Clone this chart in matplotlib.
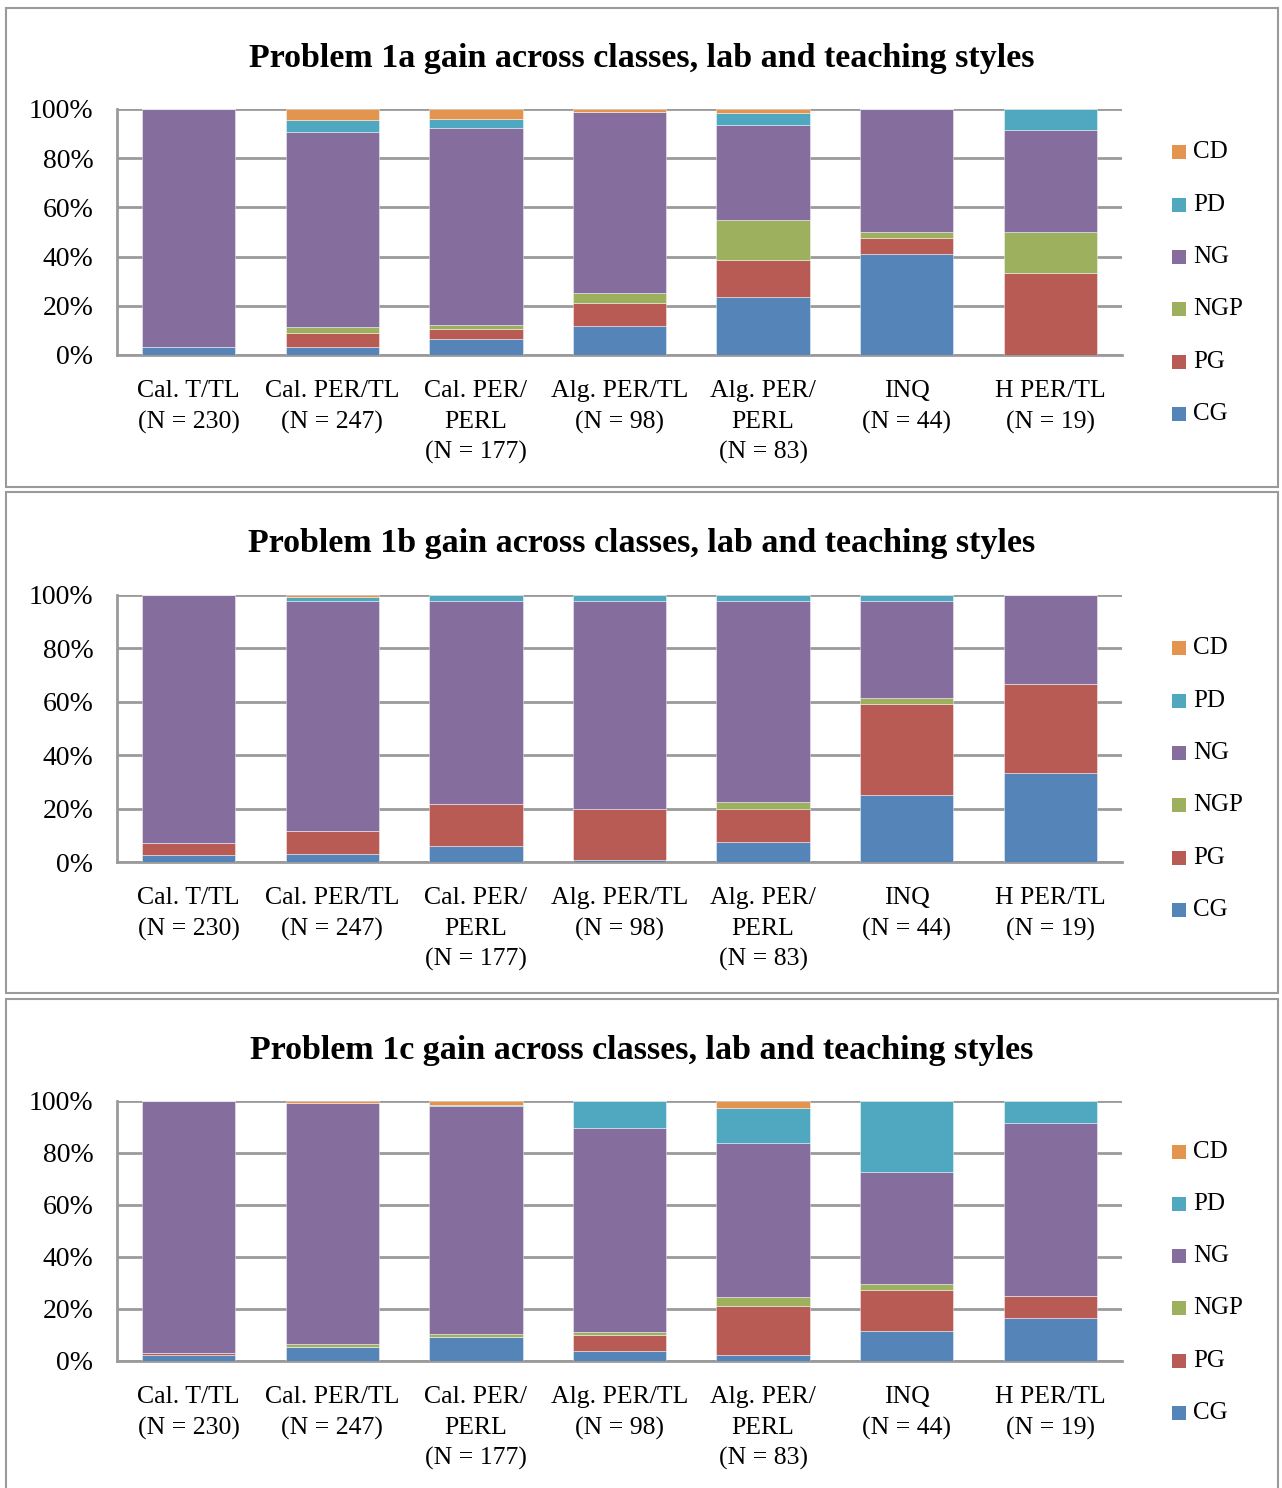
import matplotlib
matplotlib.use("Agg")
import matplotlib.pyplot as plt
from matplotlib.patches import Rectangle
import numpy as np

categories = ["Cal. T/TL\n(N = 230)", "Cal. PER/TL\n(N = 247)", "Cal. PER/\nPERL\n(N = 177)",
              "Alg. PER/TL\n(N = 98)", "Alg. PER/\nPERL\n(N = 83)", "INQ\n(N = 44)", "H PER/TL\n(N = 19)"]
series_names = ["CG", "PG", "NGP", "NG", "PD", "CD"]

titles = ["Problem 1a gain across classes, lab and teaching styles",
          "Problem 1b gain across classes, lab and teaching styles",
          "Problem 1c gain across classes, lab and teaching styles"]

# Problem 1a (percent)
p1a_CG = [3.1, 3.4, 6.5, 11.8, 23.5, 40.9, 0.0]
p1a_PG = [0.0, 5.7, 3.9, 9.2, 15.1, 6.8, 33.2]
p1a_NGP = [0.0, 2.4, 1.7, 4.1, 16.3, 2.3, 16.7]
p1a_NG = [96.9, 79.3, 80.3, 73.6, 38.6, 50.0, 41.6]
p1a_PD = [0.0, 4.7, 3.4, 0.0, 5.0, 0.0, 8.5]
p1a_CD = [0.0, 4.5, 4.2, 1.3, 1.5, 0.0, 0.0]

# Problem 1b (percent)
p1b_CG = [2.8, 3.1, 6.0, 0.8, 7.4, 25.0, 33.3]
p1b_PG = [4.5, 8.4, 15.9, 19.2, 12.4, 34.1, 33.3]
p1b_NGP = [0.0, 0.0, 0.0, 0.0, 2.6, 2.3, 0.0]
p1b_NG = [92.7, 86.4, 75.7, 77.9, 75.2, 36.3, 33.4]
p1b_PD = [0.0, 1.5, 2.4, 2.1, 2.4, 2.3, 0.0]
p1b_CD = [0.0, 0.6, 0.0, 0.0, 0.0, 0.0, 0.0]

# Problem 1c (percent)
p1c_CG = [2.3, 5.5, 9.3, 3.8, 2.3, 11.4, 16.4]
p1c_PG = [0.7, 0.0, 0.0, 6.2, 18.7, 15.9, 8.6]
p1c_NGP = [0.0, 0.9, 1.2, 1.2, 3.8, 2.3, 0.0]
p1c_NG = [97.0, 92.7, 87.4, 78.6, 58.9, 43.1, 66.5]
p1c_PD = [0.0, 0.0, 0.7, 10.2, 13.8, 27.3, 8.5]
p1c_CD = [0.0, 0.9, 1.4, 0.0, 2.5, 0.0, 0.0]

yticks = [0, 20, 40, 60, 80, 100]
ytick_labels = ["0%", "20%", "40%", "60%", "80%", "100%"]

panels = [
    [p1a_CG, p1a_PG, p1a_NGP, p1a_NG, p1a_PD, p1a_CD],
    [p1b_CG, p1b_PG, p1b_NGP, p1b_NG, p1b_PD, p1b_CD],
    [p1c_CG, p1c_PG, p1c_NGP, p1c_NG, p1c_PD, p1c_CD],
]

colors = {"CG": "#5585B8", "PG": "#B95B55", "NGP": "#9CB05E",
          "NG": "#856D9E", "PD": "#50A8C0", "CD": "#E39550"}

W, H = 1282, 1488
fig = plt.figure(figsize=(W / 100, H / 100), dpi=100)
plt.rcParams['font.family'] = ['Liberation Serif', 'DejaVu Serif']

def fx(x):
    return x / W

def fy(y):
    return 1 - y / H

# panel layout in pixels: (box_top, box_bottom, title_y, plot_top, plot_bottom, legend_ys)
layout = [
    (8, 487, 58, 109, 355, [152, 205, 257, 309, 362, 414]),
    (492, 993, 543, 595, 862, [648, 701, 753, 805, 858, 910]),
    (999, 1500, 1050, 1101, 1361, [1152, 1204, 1256, 1308, 1361, 1413]),
]
plot_left, plot_right = 117, 1122
grey = "#9A9A9A"

for pi, (bt, bb, ty, pt, pb, leg_ys) in enumerate(layout):
    # panel frame
    fig.patches.append(Rectangle((fx(6), fy(bb)), fx(1278 - 6), (bb - bt) / H,
                                 transform=fig.transFigure, fill=False,
                                 edgecolor=grey, linewidth=1.5))
    fig.text(fx(642), fy(ty), titles[pi], ha="center", va="center",
             fontsize=24.5, fontweight="bold")

    ax = fig.add_axes([fx(plot_left), fy(pb), fx(plot_right - plot_left), (pb - pt) / H])
    x = np.arange(len(categories))
    bottom = np.zeros(len(categories))
    data = panels[pi]
    for name, vals in zip(series_names, data):
        vals = np.array(vals)
        ax.bar(x, vals, width=0.65, bottom=bottom, color=colors[name],
               edgecolor=(1, 1, 1, 0.5), linewidth=0.6, zorder=3)
        bottom += vals
    ax.set_xlim(-0.5, len(categories) - 0.5)
    ax.set_ylim(0, 100)
    ax.set_yticks(yticks)
    ax.set_yticklabels(ytick_labels, fontsize=20)
    ax.set_xticks(x)
    ax.set_xticklabels(categories, linespacing=1.5, fontsize=18.5)
    ax.tick_params(axis="both", length=0)
    ax.tick_params(axis="y", pad=17)
    ax.tick_params(axis="x", pad=18)
    ax.grid(axis="y", color=grey, linewidth=2, zorder=0)
    for s in ["top", "right"]:
        ax.spines[s].set_visible(False)
    for s in ["left", "bottom"]:
        ax.spines[s].set_color(grey)
        ax.spines[s].set_linewidth(2)
    ax.set_facecolor("white")

    # legend (top to bottom: CD, PD, NG, NGP, PG, CG)
    for name, ly in zip(series_names[::-1], leg_ys):
        fig.patches.append(Rectangle((fx(1172), fy(ly + 7)), fx(14), 14 / H,
                                     transform=fig.transFigure, facecolor=colors[name],
                                     edgecolor="none"))
        fig.text(fx(1193), fy(ly), name, ha="left", va="center", fontsize=18)

fig.savefig("out.png", dpi=100, facecolor="white")
